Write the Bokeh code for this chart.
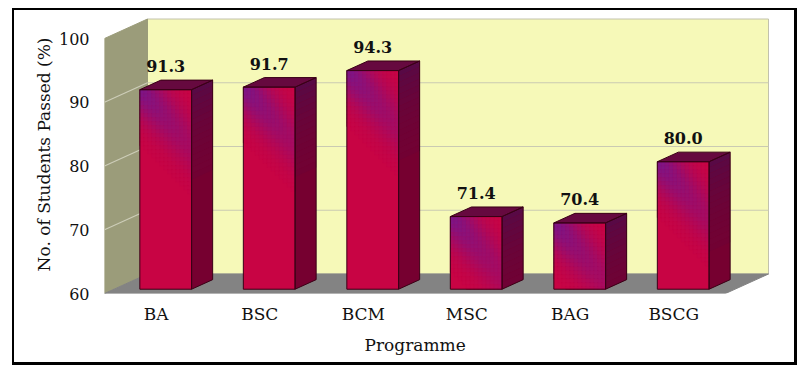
import numpy as np
from bokeh.plotting import figure
from bokeh.models import Range1d, FixedTicker, Title, ColumnDataSource
from bokeh.embed import file_html
from bokeh.resources import INLINE
from bokeh.core.properties import value

# ---- data ----
categories = ["BA", "BSC", "BCM", "MSC", "BAG", "BSCG"]
passed = [91.3, 91.7, 94.3, 71.4, 70.4, 80.0]
y_ticks = [60, 70, 80, 90, 100]
grid_values = [70, 80, 90]
y_title = "No. of Students Passed (%)"
x_title = "Programme"

# ---- layout / style ----
FONT = "DejaVu Serif"
Y0, Y1 = 60, 100
N = len(categories)
FRAME_W, FRAME_H = 670, 278
PX_X = 103.5      # pixels per category
PX_Y = 6.375      # pixels per percentage point
DX = 43 / PX_X    # depth offset (categories)
DY = 19.5 / PX_Y  # depth offset (value units)
D0, D1 = 0.22, 0.71
HALF_W = 0.25

p = figure(frame_width=FRAME_W, frame_height=FRAME_H,
           x_range=Range1d(0, FRAME_W / PX_X),
           y_range=Range1d(Y0, Y0 + FRAME_H / PX_Y),
           output_backend="svg", toolbar_location=None,
           min_border_left=90, min_border_right=20,
           min_border_top=5, min_border_bottom=69)
p.styles = {"border-style": "solid", "border-color": "black",
            "border-width": "2px 3px 3px 2px",
            "margin-left": "12px", "margin-top": "8px"}
p.outline_line_color = None
p.xgrid.visible = False
p.ygrid.visible = False

# ---- walls & floor ----
p.quad(left=[DX], right=[N + DX], bottom=[Y0 + DY], top=[Y1 + DY],
       fill_color="#F6F9B8", line_color="#C2C2AC", line_width=1)
p.patch([0, 0, DX, DX], [Y0, Y1, Y1 + DY, Y0 + DY],
        fill_color="#9B9C7A", line_color="#9B9C7A")
p.patch([0, N, N + DX, DX], [Y0, Y0, Y0 + DY, Y0 + DY],
        fill_color="#838383", line_color="#838383")
p.segment(x0=[DX] * len(grid_values), y0=[g + DY for g in grid_values],
          x1=[N + DX] * len(grid_values), y1=[g + DY for g in grid_values],
          line_color="#CACAB2", line_width=1.2)
p.segment(x0=[0] * len(grid_values), y0=grid_values,
          x1=[DX] * len(grid_values), y1=[g + DY for g in grid_values],
          line_color="#CDCDB8", line_width=1.2)

# ---- bars ----
P = np.array([118, 22, 140])
C = np.array([200, 4, 68])
S_BASE = np.array([118, 0, 48])
S_TOP = np.array([86, 10, 70])

def hexc(rgb):
    r, g, b = [int(round(v)) for v in rgb]
    return "#%02x%02x%02x" % (r, g, b)

cell = dict(l=[], r=[], b=[], t=[], c=[])
side_xs, side_ys, side_c = [], [], []
sideb_xs, sideb_ys = [], []
out_xs, out_ys = [], []
ddx, ddy = (D1 - D0) * DX, (D1 - D0) * DY
front_l, front_r, front_b, front_t = [], [], [], []
lab_x, lab_y, lab_t = [], [], []

for i, v in enumerate(passed):
    c = i + 0.5
    xl = c - HALF_W + D0 * DX
    xr = c + HALF_W + D0 * DX
    yb = Y0 + D0 * DY
    yt = v + D0 * DY
    front_l.append(xl); front_r.append(xr); front_b.append(yb); front_t.append(yt)
    # gradient cells on front face
    wpx = (xr - xl) * PX_X
    hpx = (yt - yb) * PX_Y
    ncol = 13
    cw = wpx / ncol
    ch = 4.0
    nrow = int(np.ceil(hpx / ch))
    for r_ in range(nrow):
        py0 = r_ * ch
        py1 = min(hpx, py0 + ch)
        for k in range(ncol):
            px0 = k * cw
            pxm = px0 + cw / 2
            pym = (py0 + py1) / 2
            along = (pxm + 1.13 * pym) / 1.509
            perp = (1.13 * pxm - pym) / 1.509
            wgt = 0.95 * np.exp(-(perp / 19.0) ** 2) * np.exp(-along / 90.0)
            if wgt < 0.015:
                continue
            col = C + (P - C) * wgt
            cell["l"].append(xl + px0 / PX_X)
            cell["r"].append(xl + (px0 + cw) / PX_X)
            cell["t"].append(yt - py0 / PX_Y)
            cell["b"].append(yt - py1 / PX_Y)
            cell["c"].append(hexc(col))
    # side face: base + darker strips near the top
    sideb_xs.append([xr, xr, xr + ddx, xr + ddx])
    sideb_ys.append([yb, yt, yt + ddy, yb + ddy])
    strip_px = 6.0
    nstrip = int(min(hpx, 90) // strip_px)
    for s in range(nstrip):
        ya = yt - s * strip_px / PX_Y
        yb_ = yt - (s + 1) * strip_px / PX_Y
        w2 = np.exp(-((s + 0.5) * strip_px) / 45.0)
        side_xs.append([xr, xr, xr + ddx, xr + ddx])
        side_ys.append([yb_, ya, ya + ddy, yb_ + ddy])
        side_c.append(hexc(S_BASE + (S_TOP - S_BASE) * w2))
    # outlines
    out_xs += [[xl, xr, xr, xl], [xr, xr, xr + ddx, xr + ddx], [xl, xr, xr + ddx, xl + ddx]]
    out_ys += [[yb, yb, yt, yt], [yb, yt, yt + ddy, yb + ddy], [yt, yt, yt + ddy, yt + ddy]]
    lab_x.append(c + D0 * DX)
    lab_y.append(v + D1 * DY + 14 / PX_Y)
    lab_t.append("%.1f" % v)

p.quad(left=front_l, right=front_r, bottom=front_b, top=front_t,
       fill_color=hexc(C), line_color=None)
p.quad(left="l", right="r", bottom="b", top="t", fill_color="c", line_color="c",
       line_width=0.6, source=ColumnDataSource(cell))
p.patches(xs=sideb_xs, ys=sideb_ys, fill_color=hexc(S_BASE), line_color=None)
p.patches(xs=side_xs, ys=side_ys, fill_color=side_c, line_color=None)
tops_x = [o for j, o in enumerate(out_xs) if j % 3 == 2]
tops_y = [o for j, o in enumerate(out_ys) if j % 3 == 2]
p.patches(xs=tops_x, ys=tops_y, fill_color="#66093F", line_color=None)
p.patches(xs=out_xs, ys=out_ys, fill_color=None, line_color="#3A0016", line_width=1)

p.text(x=lab_x, y=lab_y, text=lab_t, text_font=value(FONT), text_font_size="16px",
       text_font_style="bold", text_align="center", text_baseline="alphabetic",
       text_color="#111111")

# ---- axes ----
p.yaxis.ticker = FixedTicker(ticks=y_ticks)
p.yaxis.axis_line_color = None
p.yaxis.major_tick_line_color = None
p.yaxis.major_tick_out = 0
p.yaxis.major_tick_in = 0
p.yaxis.minor_tick_line_color = None
p.yaxis.major_label_standoff = 15
p.yaxis.major_label_text_font = FONT
p.yaxis.major_label_text_font_size = "16px"
p.yaxis.major_label_text_color = "#111111"
p.yaxis.axis_label = y_title
p.yaxis.axis_label_text_font = FONT
p.yaxis.axis_label_text_font_size = "17px"
p.yaxis.axis_label_text_font_style = "normal"
p.yaxis.axis_label_text_color = "#111111"
p.yaxis.axis_label_standoff = 2

tick_pos = [i + 0.5 for i in range(N)]
p.xaxis.ticker = FixedTicker(ticks=tick_pos)
p.xaxis.major_label_overrides = {t: lab for t, lab in zip(tick_pos, categories)}
p.xaxis.axis_line_color = None
p.xaxis.major_tick_line_color = None
p.xaxis.major_tick_out = 0
p.xaxis.major_tick_in = 0
p.xaxis.minor_tick_line_color = None
p.xaxis.major_label_standoff = 10
p.xaxis.major_label_text_font = FONT
p.xaxis.major_label_text_font_size = "17px"
p.xaxis.major_label_text_color = "#111111"

p.add_layout(Title(text=x_title, align="left", offset=260, standoff=12,
                   text_font=FONT, text_font_size="17px", text_font_style="normal",
                   text_color="#111111"), "below")

open("out.html", "w").write(file_html(p, INLINE))
